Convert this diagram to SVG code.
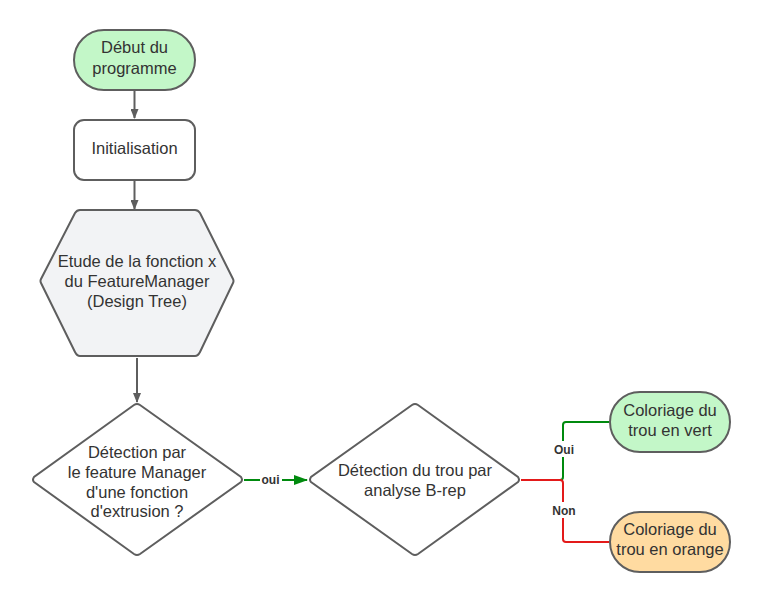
<svg xmlns="http://www.w3.org/2000/svg" width="760" height="603" viewBox="0 0 760 603">
<style>
.n{stroke:#5e5e5e;stroke-width:2;}
.t{font-family:"Liberation Sans",Arial,sans-serif;font-size:16.5px;fill:#333;text-anchor:middle;}
.l{font-family:"Liberation Sans",Arial,sans-serif;font-size:12px;font-weight:bold;fill:#333;text-anchor:middle;}
.c{fill:none;stroke-width:2;}
</style>
<defs>
<marker id="ag" markerWidth="10" markerHeight="8" refX="9" refY="4" orient="auto" markerUnits="userSpaceOnUse"><path d="M0,0 L10,4 L0,8 Z" fill="#5e5e5e"/></marker>
<marker id="agr" markerWidth="14" markerHeight="10" refX="13" refY="5" orient="auto" markerUnits="userSpaceOnUse"><path d="M0,0 L14,5 L0,10 Z" fill="#008a0e"/></marker>
</defs>
<rect width="760" height="603" fill="#fff"/>
<g id="connectors">
<path class="c" d="M134.5,91 V118" stroke="#5e5e5e" marker-end="url(#ag)"/>
<path class="c" d="M134.5,181 V209" stroke="#5e5e5e" marker-end="url(#ag)"/>
<path class="c" d="M137,358 V402" stroke="#5e5e5e" marker-end="url(#ag)"/>
<path class="c" d="M244,480 H307" stroke="#008a0e" marker-end="url(#agr)"/>
<rect x="260" y="472" width="22" height="15" fill="#fff"/>
<text class="l" x="270.5" y="484">oui</text>
<path class="c" d="M521,480 H560 Q563,480 563,477 V425 Q563,422 566,422 H609" stroke="#008a0e"/>
<path class="c" d="M521,480 H560 Q563,480 563,483 V539 Q563,542 566,542 H609" stroke="#e31a1a"/>
<rect x="550" y="441" width="28" height="16" fill="#fff"/>
<text class="l" x="564" y="453.5">Oui</text>
<rect x="548" y="502" width="32" height="16" fill="#fff"/>
<text class="l" x="564" y="514.5">Non</text>
</g>
<g id="start">
<rect class="n" x="74" y="30" width="121" height="60" rx="30" fill="#c3f7c8"/>
<text class="t" x="134.5" y="53">Début du</text>
<text class="t" x="134.5" y="74">programme</text>
</g>
<g id="init">
<rect class="n" x="74" y="120" width="121" height="60" rx="10" fill="#fff"/>
<text class="t" x="134.5" y="154">Initialisation</text>
</g>
<g id="etude">
<path class="n" d="M80,210 H195 Q198,210 200,213 L233,279 Q234,281 233,283 L200,352 Q198,356 195,356 H80 Q77,356 75,352 L41,283 Q40,281 41,279 L75,213 Q77,210 80,210 Z" fill="#f2f3f5"/>
<text class="t" x="137" y="267">Etude de la fonction x</text>
<text class="t" x="137" y="287">du FeatureManager</text>
<text class="t" x="137" y="307">(Design Tree)</text>
</g>
<g id="detect1">
<path class="n" d="M134,405 Q137,403 140,405 L241,477 Q243,480 241,482 L140,554 Q137,556 134,554 L34,482 Q32,480 34,477 Z" fill="#fff"/>
<text class="t" x="137" y="458">Détection par</text>
<text class="t" x="137" y="478">le feature Manager</text>
<text class="t" x="137" y="498">d'une fonction</text>
<text class="t" x="137" y="517">d'extrusion ?</text>
</g>
<g id="detect2">
<path class="n" d="M412,405 Q415,403 418,405 L518,477 Q520,480 518,482 L418,554 Q415,556 412,554 L311,482 Q309,480 311,477 Z" fill="#fff"/>
<text class="t" x="415" y="476">Détection du trou par</text>
<text class="t" x="415" y="496">analyse B-rep</text>
</g>
<g id="vert">
<rect class="n" x="610" y="392" width="120" height="60" rx="30" fill="#c3f7c8"/>
<text class="t" x="670" y="416">Coloriage du</text>
<text class="t" x="670" y="436">trou en vert</text>
</g>
<g id="orange">
<rect class="n" x="610" y="512" width="120" height="60" rx="30" fill="#ffdba1"/>
<text class="t" x="670" y="535">Coloriage du</text>
<text class="t" x="670" y="555">trou en orange</text>
</g>
</svg>
